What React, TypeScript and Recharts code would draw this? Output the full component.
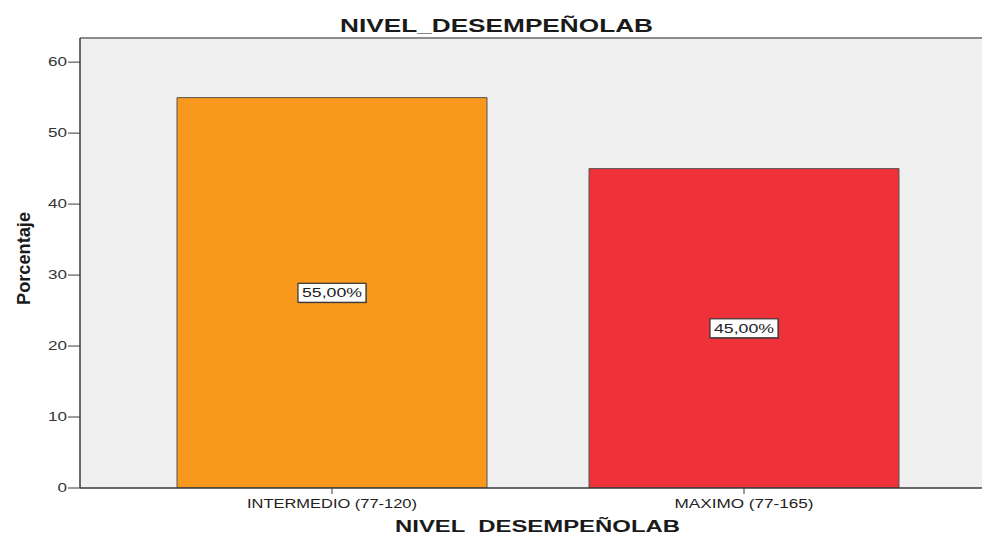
import React from "react";
import { BarChart, Bar, XAxis, YAxis, CartesianGrid, Cell, LabelList, ReferenceLine } from "recharts";

const categories = ["INTERMEDIO (77-120)", "MAXIMO (77-165)"];
const percentages = [55, 45];
const valueLabels = ["55,00%", "45,00%"];
const barColors = ["#F8991E", "#EF323A"];
const yTicks = [0, 10, 20, 30, 40, 50, 60];
const xTickWidths = [170, 139];

const data = categories.map((c, i) => ({ name: c, value: percentages[i], label: valueLabels[i] }));

const FONT = "'Liberation Sans', Arial, sans-serif";

const YTick = (props: any) => {
  const { x, y, payload } = props;
  const s = String(payload.value);
  return (
    <text x={x} y={y} dy={4} textAnchor="end" fontFamily={FONT} fontSize={12} fill="#333"
      textLength={9.5 * s.length} lengthAdjust="spacingAndGlyphs">
      {s}
    </text>
  );
};

const XTick = (props: any) => {
  const { x, y, payload, index } = props;
  const w = xTickWidths[index] ?? 150;
  return (
    <text x={x} y={y} dy={12} textAnchor="middle" fontFamily={FONT} fontSize={12} fill="#222"
      textLength={w} lengthAdjust="spacingAndGlyphs">
      {payload.value}
    </text>
  );
};

const BoxLabel = (props: any) => {
  const { x, y, width, height, index } = props;
  const cx = Number(x) + Number(width) / 2;
  const cy = Number(y) + Number(height) / 2;
  const bw = 68;
  const bh = 19;
  return (
    <g>
      <rect x={cx - bw / 2 + 1} y={cy - bh / 2 + 1} width={bw} height={bh} fill="#444" opacity={0.5} />
      <rect x={cx - bw / 2} y={cy - bh / 2} width={bw} height={bh} fill="#ffffff" stroke="#333" strokeWidth={1.2} />
      <text x={cx} y={cy} dy={4.5} textAnchor="middle" fontFamily={FONT} fontSize={12.5} fill="#222"
        textLength={60} lengthAdjust="spacingAndGlyphs">
        {valueLabels[index]}
      </text>
    </g>
  );
};

export default function App() {
  return (
    <div style={{ position: "absolute", left: 0, top: 0, width: 982, height: 536, background: "#fff" }}>
      <BarChart width={982} height={536} data={data} margin={{ top: 38, right: 0, left: 0, bottom: 0 }}>
        <CartesianGrid fill="#F0F0F0" horizontal={false} vertical={false} />
        <ReferenceLine y={63.4} stroke="#8c8c8c" strokeWidth={2} ifOverflow="extendDomain" />
        <XAxis
          dataKey="name"
          height={48}
          padding={{ left: 46, right: 32 }}
          tickSize={6}
          tickMargin={2}
          axisLine={{ stroke: "#3a3a3a", strokeWidth: 1.5 }}
          tickLine={{ stroke: "#3a3a3a" }}
          tick={<XTick />}
          interval={0}
        />
        <YAxis
          width={80}
          domain={[0, 63.4]}
          ticks={yTicks}
          tickSize={12}
          tickMargin={1}
          axisLine={{ stroke: "#3a3a3a", strokeWidth: 1.5 }}
          tickLine={{ stroke: "#3a3a3a" }}
          tick={<YTick />}
          allowDataOverflow
        />
        <Bar dataKey="value" barSize={310} stroke="#555" strokeWidth={1} isAnimationActive={false}>
          {data.map((d, i) => (
            <Cell key={d.name} fill={barColors[i]} />
          ))}
          <LabelList dataKey="label" content={<BoxLabel />} />
        </Bar>
      </BarChart>
      <svg width={982} height={536} style={{ position: "absolute", left: 0, top: 0, pointerEvents: "none" }}>
        <text x={496.5} y={31.5} textAnchor="middle" fontFamily={FONT} fontWeight="bold" fontSize={19} fill="#1a1a1a"
          textLength={313} lengthAdjust="spacingAndGlyphs">
          NIVEL_DESEMPEÑOLAB
        </text>
        <text x={537.5} y={532} textAnchor="middle" fontFamily={FONT} fontWeight="bold" fontSize={16} fill="#1a1a1a"
          textLength={285} lengthAdjust="spacingAndGlyphs" style={{ whiteSpace: "pre" }}>
          {"NIVEL  DESEMPEÑOLAB"}
        </text>
        <text transform="translate(30,258.5) rotate(-90)" textAnchor="middle" fontFamily={FONT} fontWeight="bold" fontSize={18}
          fill="#1a1a1a" textLength={93} lengthAdjust="spacingAndGlyphs">
          Porcentaje
        </text>
      </svg>
    </div>
  );
}
